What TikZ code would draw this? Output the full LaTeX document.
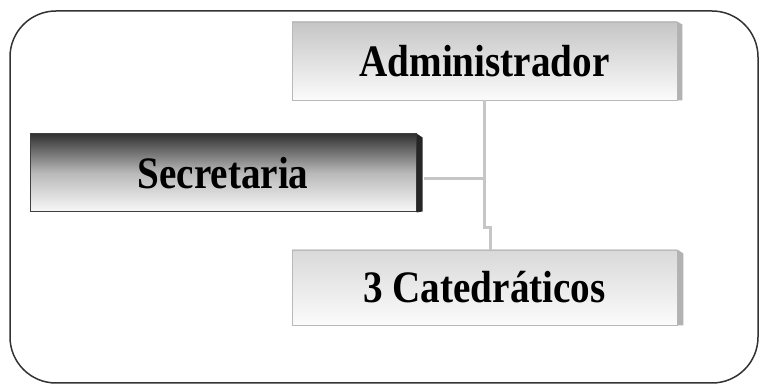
\documentclass[tikz,border=0pt]{standalone}
\usepackage{fontspec}
\setmainfont{Liberation Serif}[FakeStretch=0.87]
\usetikzlibrary{calc}
\begin{document}
\begin{tikzpicture}[x=1pt,y=1pt,
  boxlight/.style={draw=gray!55, line width=0.8pt, minimum width=385pt, minimum height=78pt,
    inner sep=0pt, top color=gray!45, bottom color=white!97!gray,
    font=\fontsize{45}{50}\selectfont\bfseries},
  boxdark/.style={draw=black!75, line width=1pt, minimum width=386pt, minimum height=78pt,
    inner sep=0pt, top color=black!80, bottom color=white!95!gray, middle color=gray!55,
    font=\fontsize{45}{50}\selectfont\bfseries},
  sidelight/.style={fill=gray!60},
  sidedark/.style={fill=black!85},
  conn/.style={draw=gray!45, line width=3pt},
  frame/.style={draw=black!80, line width=1.5pt, rounded corners=46pt}
]
\useasboundingbox (0,0) rectangle (760,385);
\path[fill=white] (0,0) rectangle (760,385);
% outer frame
\draw[frame] (10,2) rectangle (758,374);

% boxes
\node[boxlight] (adm) at (484.5,324) {Administrador};
\node[boxdark]  (sec) at (223,212) {Secretaria};
\node[boxlight, minimum height=75pt, top color=gray!30] (cat) at (484.5,97.5) {3 Catedráticos};

% 3D sides
\path[sidelight] (adm.north east) -- ++(5,-3) -- ($(adm.south east)+(5,0)$) -- (adm.south east) -- cycle;
\path[sidedark]  (sec.north east) -- ++(6,-4) -- ($(sec.south east)+(6,1)$) -- (sec.south east) -- cycle;
\path[sidelight] (cat.north east) -- ++(6,-4) -- ($(cat.south east)+(6,0)$) -- (cat.south east) -- cycle;

% connectors
\coordinate (j1) at (484,157);
\coordinate (j2) at (490,157);
\draw[conn] (adm.south -| j1) -- (j1) -- (j2) -- (j2 |- cat.north);
\draw[conn] ([xshift=7pt,yshift=-6pt]sec.east) -- ([yshift=-6pt]sec.east -| j1);
\end{tikzpicture}
\end{document}
